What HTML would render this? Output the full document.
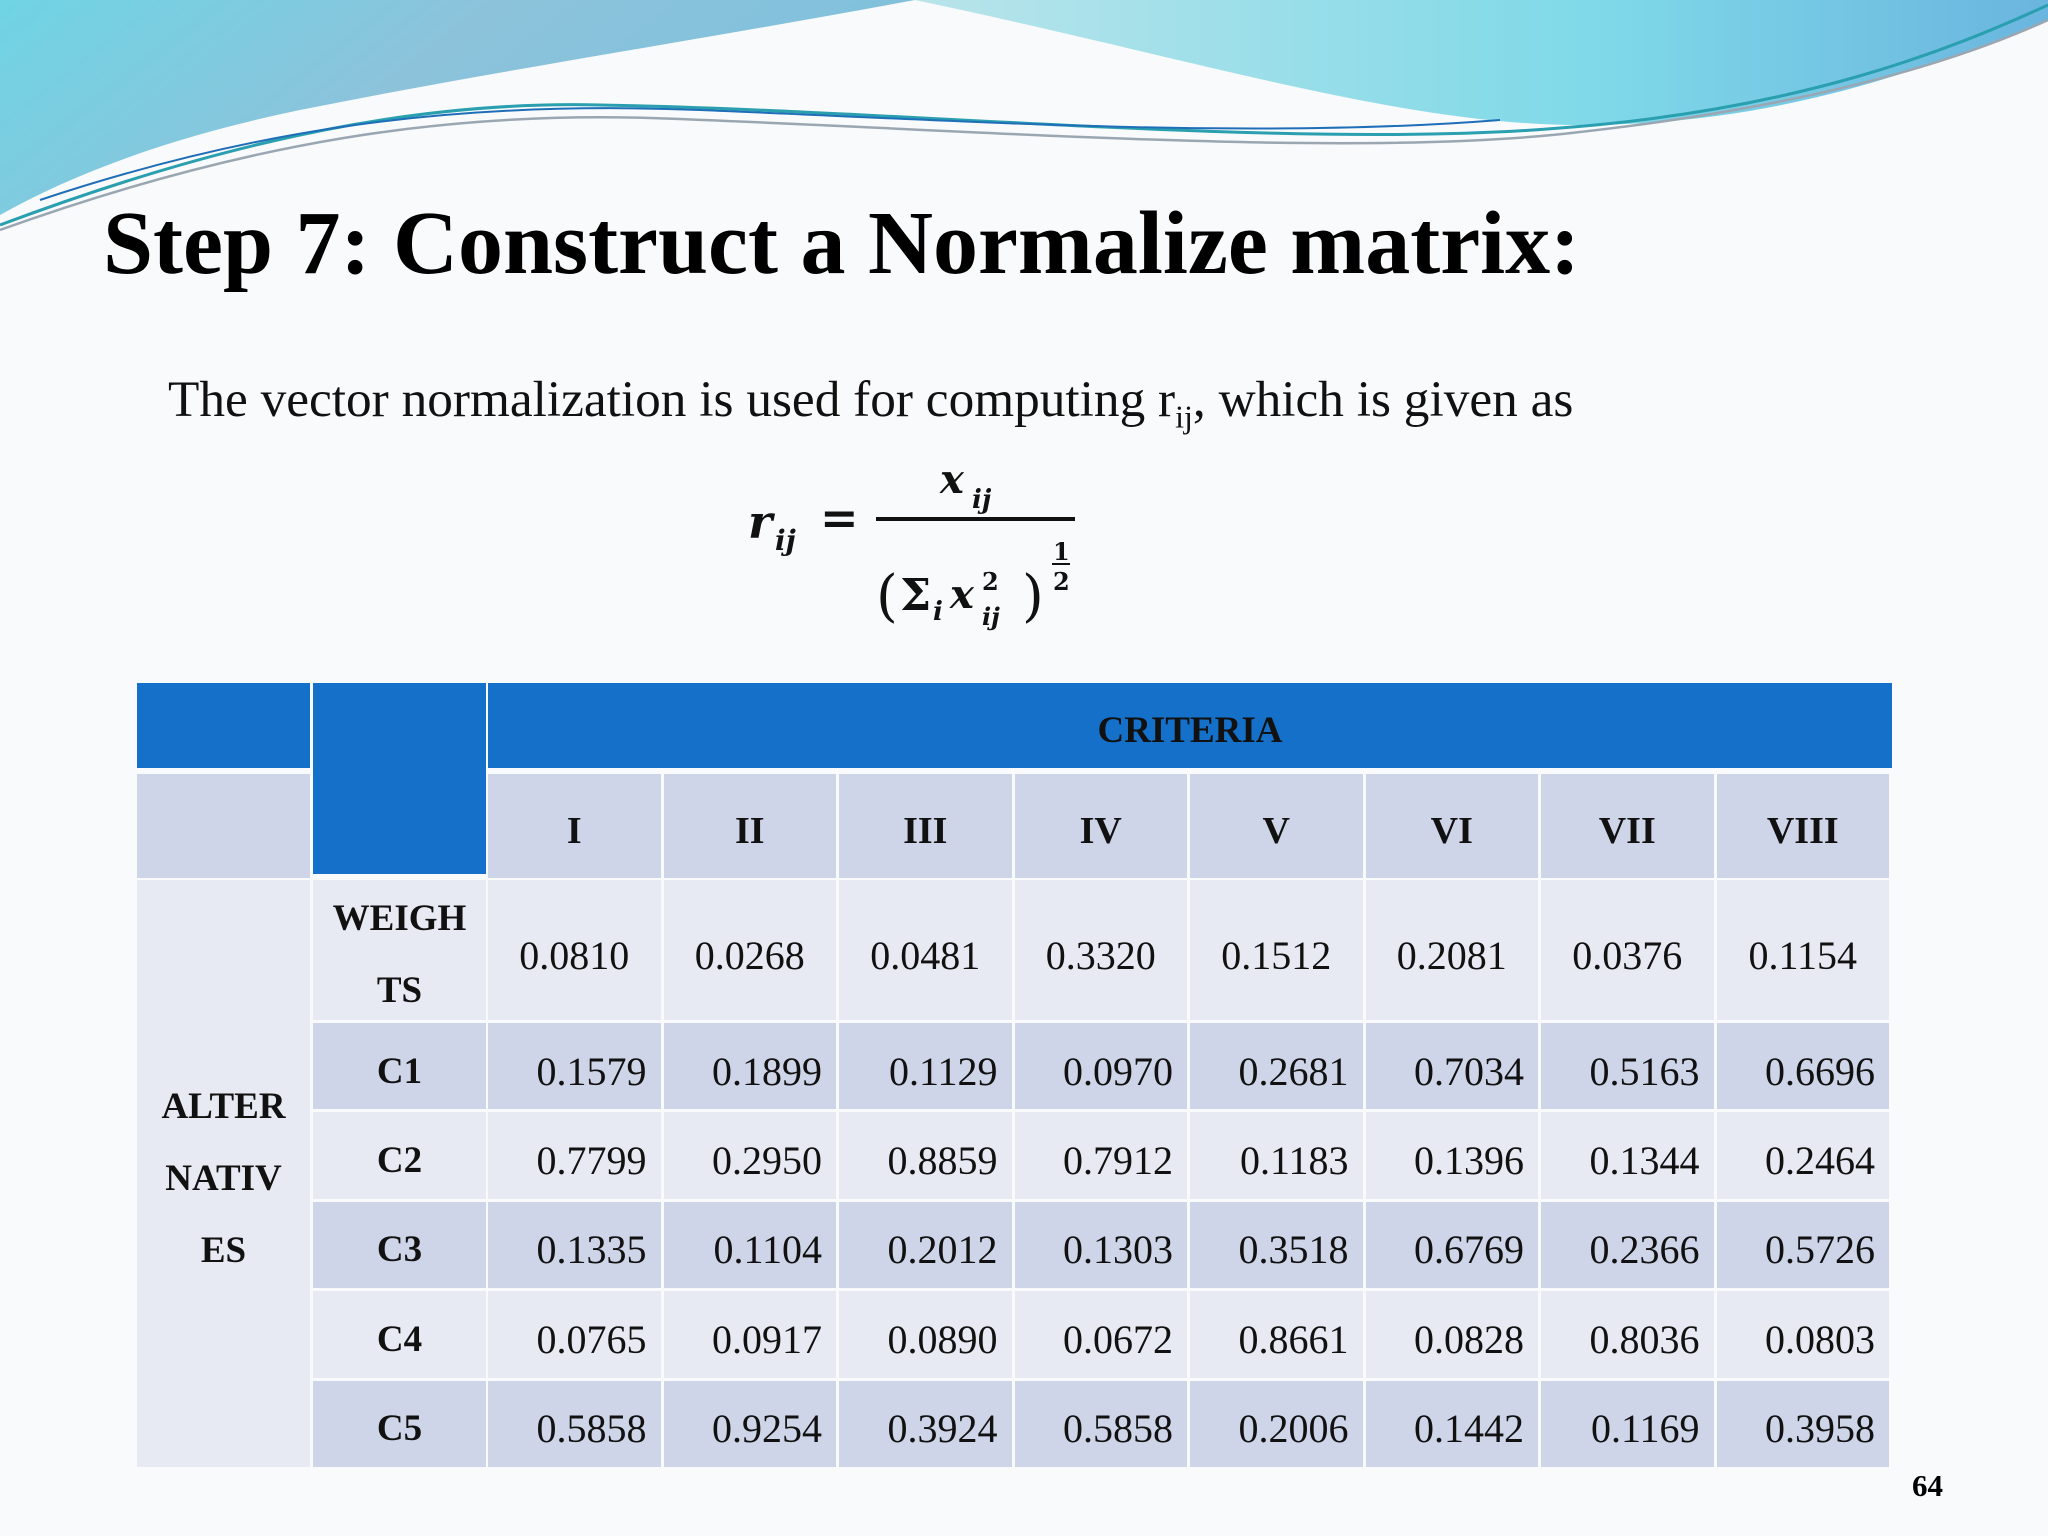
<!DOCTYPE html>
<html><head><meta charset="utf-8">
<style>
html,body{margin:0;padding:0}
body{width:2048px;height:1536px;position:relative;overflow:hidden;background:#f9fafb;font-family:"Liberation Serif",serif}
.abs{position:absolute}
#tbl{position:absolute;left:0;top:0;width:2048px;height:1536px}
.cell{position:absolute;box-sizing:border-box;display:flex;align-items:center;justify-content:center;font-size:40px;color:#111;padding-top:10px}
</style></head><body>
<svg class="abs" style="left:0;top:0" width="2048" height="260" viewBox="0 0 2048 260">
<defs>
<linearGradient id="g1" x1="0" y1="0" x2="1" y2="0.3"><stop offset="0" stop-color="#6fd4e4"/><stop offset="0.5" stop-color="#8cc3db"/><stop offset="1" stop-color="#7fc0dc"/></linearGradient>
<linearGradient id="g2" x1="0" y1="0" x2="1" y2="0"><stop offset="0" stop-color="#b9e4ea"/><stop offset="0.6" stop-color="#7fd9e8"/><stop offset="1" stop-color="#6ab5df"/></linearGradient>
</defs>
<path d="M0,0 H915 C700,40 500,70 300,110 C180,135 80,170 0,215 Z" fill="url(#g1)"/>
<path d="M915,0 H2048 V20 C1900,80 1760,125 1580,125 C1400,125 1200,60 915,0 Z" fill="url(#g2)"/>
<path d="M0,225 C200,150 400,100 600,105 C900,110 1300,150 1560,128 C1800,110 1950,50 2048,5" stroke="#2a9fb0" stroke-width="3" fill="none"/>
<path d="M0,230 C250,140 450,112 650,118 C950,128 1350,160 1580,132 C1820,105 1960,60 2048,20" stroke="#9aa7b2" stroke-width="2.5" fill="none"/>
<path d="M40,200 C250,130 450,100 700,110 C950,120 1250,140 1500,120" stroke="#1f6fb8" stroke-width="2" fill="none"/>
</svg>
<div class="abs" style="left:103px;top:192px;font-size:90px;font-weight:bold;white-space:nowrap;color:#000">Step 7: Construct a Normalize matrix:</div>
<div class="abs" style="left:168px;top:370px;font-size:51.3px;white-space:nowrap;color:#111">The vector normalization is used for computing r<sub style="font-size:32px">ij</sub>, which is given as</div>
<svg class="abs" style="left:700px;top:450px" width="450" height="200" viewBox="0 0 450 200">
<g font-family="'DejaVu Serif',serif" font-weight="bold" font-style="italic" fill="#111">
<text x="48" y="88" font-size="46">r</text><text x="75" y="100" font-size="28">ij</text>
<text x="120" y="84" font-size="46" font-style="normal">=</text>
<text x="240" y="43" font-size="40">x</text><text x="272" y="58" font-size="26">ij</text>
<line x1="176" y1="69" x2="375" y2="69" stroke="#111" stroke-width="4"/>
<text x="176" y="165" font-size="56" font-style="normal" font-weight="normal">(</text>
<text x="200" y="160" font-size="44" font-style="normal">Σ</text><text x="233" y="170" font-size="26">i</text>
<text x="250" y="158" font-size="40">x</text><text x="282" y="140" font-size="24" font-style="normal">2</text><text x="282" y="175" font-size="24">ij</text>
<text x="322" y="165" font-size="56" font-style="normal" font-weight="normal">)</text>
<text x="353" y="110" font-size="24" font-style="normal">1</text>
<line x1="352" y1="114" x2="370" y2="114" stroke="#111" stroke-width="2"/>
<text x="353" y="140" font-size="24" font-style="normal">2</text>
</g>
</svg>
<div id="tbl"></div>
<div class="abs" style="left:1912px;top:1468px;font-size:31px;font-weight:bold">64</div>
<script>
const criteria=["I","II","III","IV","V","VI","VII","VIII"];
const weights=["0.0810","0.0268","0.0481","0.3320","0.1512","0.2081","0.0376","0.1154"];
const alternatives=["C1","C2","C3","C4","C5"];
const rowC1=["0.1579","0.1899","0.1129","0.0970","0.2681","0.7034","0.5163","0.6696"];
const rowC2=["0.7799","0.2950","0.8859","0.7912","0.1183","0.1396","0.1344","0.2464"];
const rowC3=["0.1335","0.1104","0.2012","0.1303","0.3518","0.6769","0.2366","0.5726"];
const rowC4=["0.0765","0.0917","0.0890","0.0672","0.8661","0.0828","0.8036","0.0803"];
const rowC5=["0.5858","0.9254","0.3924","0.5858","0.2006","0.1442","0.1169","0.3958"];
const rows=[rowC1,rowC2,rowC3,rowC4,rowC5];
const T=document.getElementById('tbl');
const BLUE="#1470c8",DARK="#cfd5e8",LIGHT="#e8eaf3";
function cell(x,y,w,h,bg,txt,opt){
  const d=document.createElement('div');d.className='cell';
  d.style.left=x+'px';d.style.top=y+'px';d.style.width=w+'px';d.style.height=h+'px';
  d.style.background=bg;
  if(opt&&opt.bold)d.style.fontWeight='bold';
  if(opt&&opt.fs)d.style.fontSize=opt.fs+'px';
  if(opt&&opt.pl){d.style.justifyContent='flex-end';d.style.paddingRight=opt.pl+'px';}
  if(opt&&opt.lh){d.style.lineHeight=opt.lh;d.style.textAlign='center';}
  d.innerHTML=txt;T.appendChild(d);return d;
}
const c0=137,c1=313,cx=488,cw=175.5,g=3;
let d;
d=cell(c0,683,173,85,BLUE,"");
d=cell(c1,683,173,191,BLUE,"");
d=cell(cx,683,1892-cx,85,BLUE,"CRITERIA",{bold:true,fs:37});d.style.color='#111';
d=cell(c0,774,173,104,DARK,"");
criteria.forEach((c,i)=>{
  const e=cell(cx+i*cw,774,cw-g,104,DARK,c,{bold:true,fs:38});
  
  
});
d=cell(c0,880,173,587,LIGHT,"ALTER<br>NATIV<br>ES",{bold:true,fs:37,lh:'72px'});
d=cell(c1,880,173,140,LIGHT,"WEIGH<br>TS",{bold:true,fs:37,lh:'72px'});
weights.forEach((v,i)=>{
  const e=cell(cx+i*cw,880,cw-g,140,LIGHT,v);
  
  
});
const rh=89.4;
alternatives.forEach((a,r)=>{
  const y=1023+r*rh, bg=r%2===0?DARK:LIGHT;
  const e=cell(c1,y,173,rh-g,bg,a,{bold:true,fs:37});
  
  
  rows[r].forEach((v,i)=>{
    const f=cell(cx+i*cw,y,cw-g,rh-g,bg,v,{pl:14});
    
    
  });
});
</script>
</body></html>
